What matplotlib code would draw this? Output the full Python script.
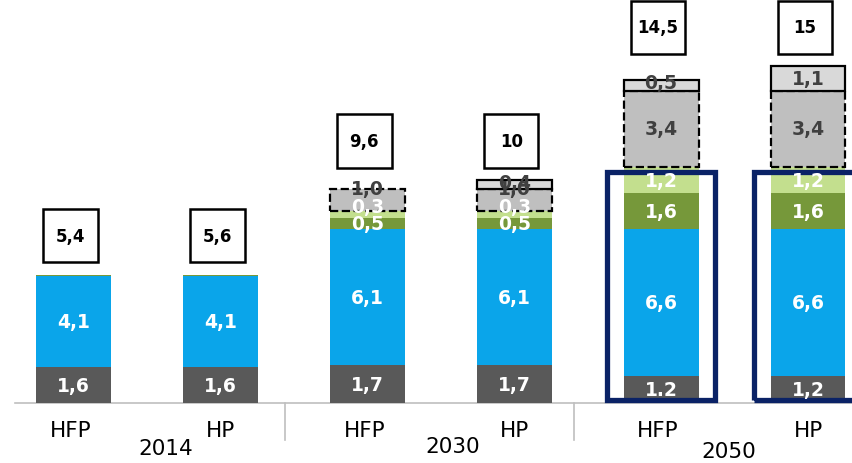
import numpy as np
import matplotlib
matplotlib.use('Agg')
import matplotlib.pyplot as plt
from matplotlib.patches import Rectangle

# data
scenarios = ['HFP', 'HP', 'HFP', 'HP', 'HFP', 'HP']
years = ['2014', '2030', '2050']
dark = [1.6, 1.6, 1.7, 1.7, 1.2, 1.2]
blue = [4.1, 4.1, 6.1, 6.1, 6.6, 6.6]
green = [0.05, 0.05, 0.5, 0.5, 1.6, 1.6]
light_green = [0, 0, 0.3, 0.3, 1.2, 1.2]
grey = [0, 0, 1.0, 1.0, 3.4, 3.4]
light_grey = [0, 0, 0, 0.4, 0.5, 1.1]

dark_labels = ['1,6', '1,6', '1,7', '1,7', '1.2', '1,2']
blue_labels = ['4,1', '4,1', '6,1', '6,1', '6,6', '6,6']
green_labels = ['', '', '0,5', '0,5', '1,6', '1,6']
light_green_labels = ['', '', '0,3', '0,3', '1,2', '1,2']
grey_labels = ['', '', '1,0', '1,0', '3,4', '3,4']
light_grey_labels = ['', '', '', '0,4', '0,5', '1,1']
totals = ['5,4', '5,6', '9,6', '10', '14,5', '15']

C_DARK = '#595959'
C_BLUE = '#0AA5EA'
C_GREEN = '#76983A'
C_LGREEN = '#C3DF8E'
C_GREY = '#BFBFBF'
C_LGREY = '#D9D9D9'
C_NAVY = '#0A2266'
C_TXT = '#404040'

fig = plt.figure(figsize=(8.53, 4.64), dpi=100)
ax = fig.add_axes([0, 0, 1, 1])
ax.set_xlim(-73.5 / 146.9, (853 - 73.5) / 146.9)
ax.set_ylim(-60 / 22.3, 404 / 22.3)
ax.axis('off')

x = np.arange(len(scenarios))
w = 0.51

# (values, colour, labels, text colour, edge style, label nudge for thin segments)
layers = [
    (dark, C_DARK, dark_labels, 'white', None, 0.0),
    (blue, C_BLUE, blue_labels, 'white', None, 0.0),
    (green, C_GREEN, green_labels, 'white', None, 0.0),
    (light_green, C_LGREEN, light_green_labels, 'white', None, 0.35),
    (grey, C_GREY, grey_labels, C_TXT, 'dashed', 0.5),
    (light_grey, C_LGREY, light_grey_labels, C_TXT, 'solid', 0.1),
]

bottom = np.zeros(len(x))
for vals, col, labs, tcol, edge, nudge in layers:
    vals = np.array(vals)
    if edge is None:
        ax.bar(x, vals, w, bottom=bottom, color=col, linewidth=0, zorder=2)
    else:
        for i in range(len(x)):
            if vals[i] > 0:
                ax.bar(x[i], vals[i], w, bottom=bottom[i], color=col,
                       edgecolor='black', linewidth=1.6, linestyle=edge, zorder=3)
    for i in range(len(x)):
        if labs[i]:
            dy = nudge if vals[i] <= 1.0 else 0
            ax.text(x[i], bottom[i] + vals[i] / 2 + dy, labs[i], ha='center', va='center',
                    color=tcol, fontsize=13.5, fontweight='bold', zorder=7)
    bottom = bottom + vals

# total boxes
tot = bottom
for g in range(3):
    top = max(tot[2 * g], tot[2 * g + 1]) + 1.75
    for i in (2 * g, 2 * g + 1):
        ax.add_patch(Rectangle((x[i] - 0.02 - 0.185, top - 1.19), 0.37, 2.38,
                               facecolor='white', edgecolor='black', linewidth=1.8, zorder=4))
        ax.text(x[i] - 0.02, top, totals[i], ha='center', va='center',
                fontsize=12, fontweight='bold', color='black', zorder=5)

# navy frames round 2050
for i in (4, 5):
    h = dark[i] + blue[i] + green[i] + light_green[i]
    ax.add_patch(Rectangle((x[i] - 0.365, 0.12), 0.73, h - 0.34, fill=False,
                           edgecolor=C_NAVY, linewidth=3.8, zorder=6, clip_on=False))

# axis line and separators
ax.plot([-0.395, 5.4], [0, 0], color='#BFBFBF', linewidth=1.2, zorder=1)
for xs in (1.44, 3.41):
    ax.plot([xs, xs], [0, -1.65], color='#BFBFBF', linewidth=1.2, zorder=1)

for i in range(len(x)):
    ax.text(x[i] - 0.02 + 0.02 * (i % 2), -1.2, scenarios[i], ha='center', va='center',
            fontsize=15.5, color='black')
year_x = [0.63, 2.58, 4.46]
year_y = [-2.0, -1.95, -2.15]
for g in range(3):
    ax.text(year_x[g], year_y[g], years[g], ha='center', va='center',
            fontsize=15.5, color='black')

fig.savefig('out.png', dpi=100)
